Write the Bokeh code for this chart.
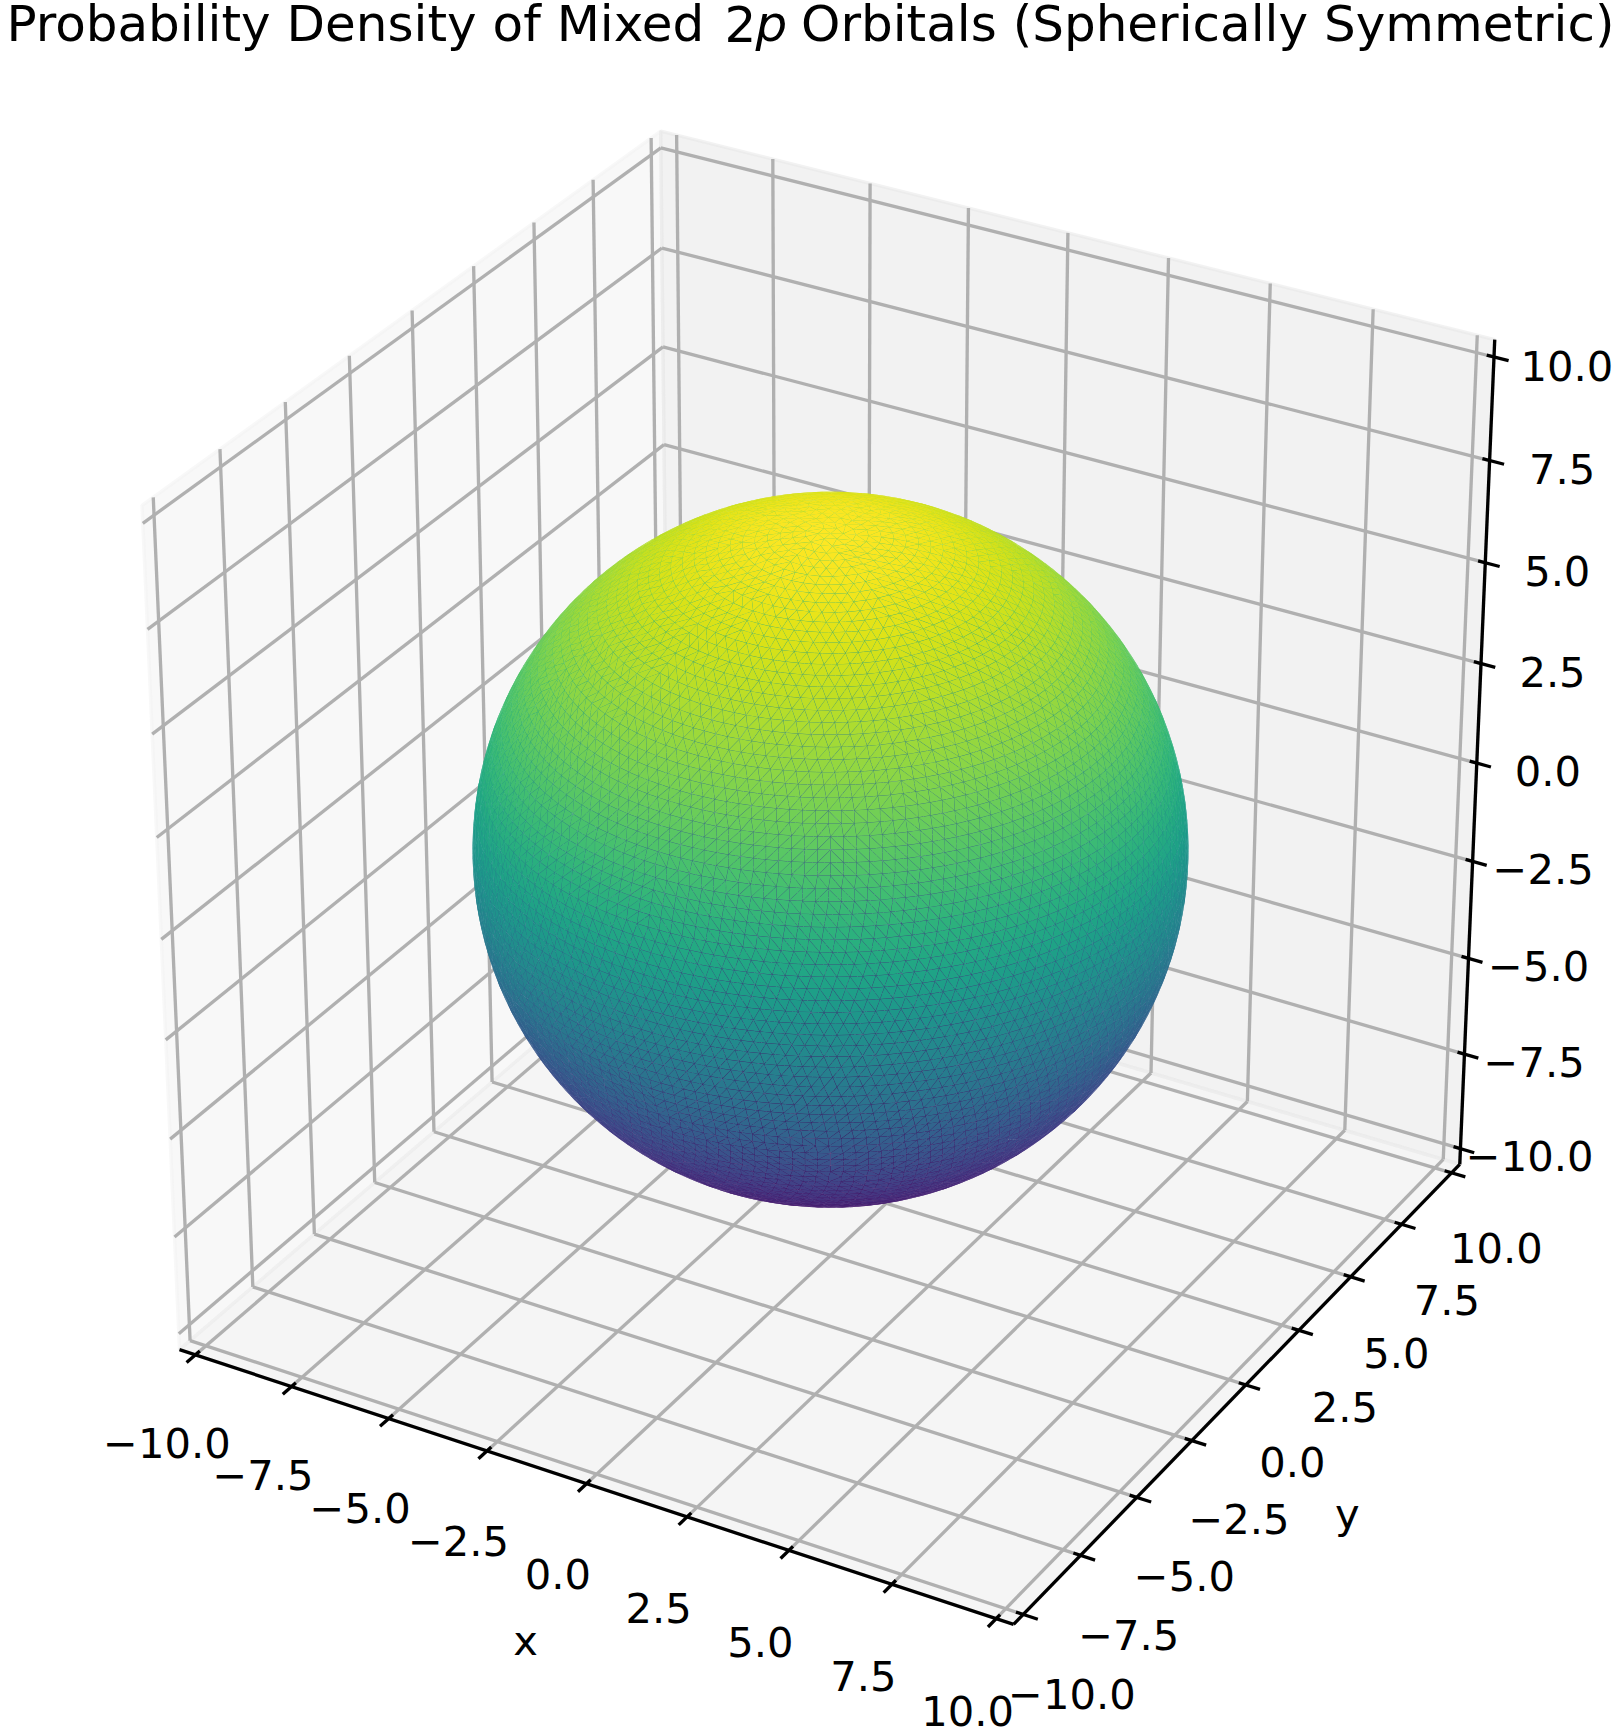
import math
import numpy as np
from bokeh.core.properties import value
from bokeh.embed import file_html
from bokeh.models import ColumnDataSource, Range1d
from bokeh.palettes import Viridis256
from bokeh.plotting import figure
from bokeh.resources import INLINE

# ---- chart values ----
tick_values = [-10.0, -7.5, -5.0, -2.5, 0.0, 2.5, 5.0, 7.5, 10.0]
tick_labels = ["\u221210.0", "\u22127.5", "\u22125.0", "\u22122.5", "0.0", "2.5", "5.0", "7.5", "10.0"]
sphere_radius = 7.74
title_parts = ["Probability Density of Mixed", "2", "p", "Orbitals (Spherically Symmetric)"]
x_label = "x"
y_label = "y"

# ---- the 3D camera (elevation 30, azimuth -60) ----
WIDTH, HEIGHT = 1617, 1734
LIM = 10.0 * (1 + 1 / 24)          # axis limit with view margin
PANE_COLORS = {"x": "#f2f2f2", "y": "#e6e6e6", "z": "#ececec"}
SCALE, CX, CY = 8750.0, 830.0, 849.2
UNIT = 1.8294640721620434 * 25 / 24 / math.sqrt(3) / (2 * LIM)
elev, azim = math.radians(30), math.radians(-60)
N = np.array([math.cos(elev) * math.cos(azim), math.cos(elev) * math.sin(azim), math.sin(elev)])
U = np.array([-N[1], N[0], 0.0]) / math.hypot(N[0], N[1])
V = np.cross(N, U)
DIST = 10.0


def project(x, y, z):
    p = np.stack([np.asarray(x, float), np.asarray(y, float), np.asarray(z, float)], axis=-1) * UNIT
    w = DIST - p @ N
    return CX + SCALE * (p @ U) / w, CY - SCALE * (p @ V) / w


def segment(a, b):
    xs, ys = project([a[0], b[0]], [a[1], b[1]], [a[2], b[2]])
    return list(xs), list(ys)


p = figure(width=WIDTH, height=HEIGHT, output_backend="svg", toolbar_location=None,
           x_range=Range1d(0, WIDTH), y_range=Range1d(HEIGHT, 0), min_border=0,
           margin=(0, 0, 0, 0))
p.axis.visible = False
p.grid.visible = False
p.outline_line_color = None
p.background_fill_color = "white"
p.border_fill_color = "white"

E = LIM
# panes
pane_defs = [
    ("x", [(-E, -E, -E), (-E, E, -E), (-E, E, E), (-E, -E, E)]),
    ("y", [(-E, E, -E), (E, E, -E), (E, E, E), (-E, E, E)]),
    ("z", [(-E, -E, -E), (E, -E, -E), (E, E, -E), (-E, E, -E)]),
]
for name, corners in pane_defs:
    c = np.array(corners)
    xs, ys = project(c[:, 0], c[:, 1], c[:, 2])
    p.patch(list(xs), list(ys), fill_color=PANE_COLORS[name], fill_alpha=0.5,
            line_color=PANE_COLORS[name], line_alpha=0.5, line_width=3.33)

# grid
gx, gy = [], []
for t in tick_values:
    for a, b in [((t, -E, -E), (t, E, -E)), ((t, E, -E), (t, E, E)),
                 ((-E, t, -E), (E, t, -E)), ((-E, t, -E), (-E, t, E)),
                 ((-E, -E, t), (-E, E, t)), ((-E, E, t), (E, E, t))]:
        xs, ys = segment(a, b)
        gx.append(xs)
        gy.append(ys)
p.multi_line(gx, gy, line_color="#b0b0b0", line_width=3.33)

# axis lines and ticks
ax, ay = [], []
for a, b in [((-E, -E, -E), (E, -E, -E)), ((E, -E, -E), (E, E, -E)), ((E, E, -E), (E, E, E))]:
    xs, ys = segment(a, b)
    ax.append(xs)
    ay.append(ys)
D = 2 * E / 12
for t in tick_values:
    for a, b in [((t, -E - 0.2 * D, -E), (t, -E + 0.1 * D, -E)),
                 ((E + 0.2 * D, t, -E), (E - 0.1 * D, t, -E)),
                 ((E + 0.2 * D, E, t), (E - 0.1 * D, E, t))]:
        xs, ys = segment(a, b)
        ax.append(xs)
        ay.append(ys)
p.multi_line(ax, ay, line_color="black", line_width=3.33)

# tick labels
PAD = 1.2
FONT = value("DejaVu Sans")
TICK_SIZE = value("41.67px")
T = np.array(tick_values)
ones = np.ones_like(T)
lx = [(project(T, (-E - PAD) * ones, (-E - PAD) * ones), 0, 16),
      (project((E + PAD) * ones, T, (-E - PAD) * ones), -1, 16),
      (project((E + PAD) * ones, (E + PAD) * ones, T), -2, 18)]
for (xs, ys), xoff, yoff in lx:
    p.text(list(xs), list(ys), text=tick_labels, text_font=FONT, text_font_size=TICK_SIZE,
           text_align="center", text_baseline="middle", text_color="black", y_offset=yoff,
           x_offset=xoff)

# axis labels
xlx, xly = project([0.0], [-E - 3.1], [-E - 3.1])
p.text(list(xlx), list(xly), text=[x_label], text_font=FONT, text_font_size=TICK_SIZE,
       text_align="center", text_baseline="middle", x_offset=13, y_offset=-35)
ylx, yly = project([E + 2.76], [0.0], [-E - 2.76])
p.text(list(ylx), list(yly), text=[y_label], text_font=FONT, text_font_size=TICK_SIZE,
       text_align="center", text_baseline="middle", x_offset=-8, y_offset=-13)


# sphere mesh
def sphere_triangles(radius, rings):
    dth = math.pi / rings
    pts = []
    for k in range(rings + 1):
        th = k * dth
        n = 1 if k in (0, rings) else max(6, int(round(2 * math.pi * math.sin(th) / dth)))
        off = 0.5 * (k % 2) / n
        ph = 2 * math.pi * ((np.arange(n) / n) + off)
        pts.append((radius * math.sin(th) * np.cos(ph), radius * math.sin(th) * np.sin(ph),
                    radius * math.cos(th) * np.ones(n), n, off))
    tris = []
    for k in range(rings):
        xa, ya, za, na, oa = pts[k]
        xb, yb, zb, nb, ob = pts[k + 1]
        i, j = 0, 0
        while i < na or j < nb:
            ia, ja = i % na, j % nb
            if na == 1:
                adv_a = False
            elif nb == 1:
                adv_a = True
            else:
                adv_a = (i + 1) / na + oa <= (j + 1) / nb + ob
            if j >= nb:
                adv_a = True
            if i >= na:
                adv_a = False
            if adv_a:
                i2 = (i + 1) % na
                tris.append(((xa[ia], ya[ia], za[ia]), (xa[i2], ya[i2], za[i2]), (xb[ja], yb[ja], zb[ja])))
                i += 1
            else:
                j2 = (j + 1) % nb
                tris.append(((xa[ia], ya[ia], za[ia]), (xb[j2], yb[j2], zb[j2]), (xb[ja], yb[ja], zb[ja])))
                j += 1
            if na == 1 and j >= nb:
                break
            if nb == 1 and i >= na:
                break
    return np.array(tris)


def draw_layer(tris, front):
    cen = tris.mean(axis=1)
    facing = (cen @ N) > -0.02 * sphere_radius if front else (cen @ N) < 0
    tris = tris[facing]
    cen = cen[facing]
    tris = tris[np.argsort(cen @ N)]
    cz = tris.mean(axis=1)[:, 2]
    idx = np.clip(((cz + sphere_radius) / (2 * sphere_radius) * 255).round().astype(int), 0, 255)
    xs, ys = project(tris[:, :, 0], tris[:, :, 1], tris[:, :, 2])
    if front:
        # leave a hairline between facets, through which the far side shows
        xc, yc = xs.mean(axis=1, keepdims=True), ys.mean(axis=1, keepdims=True)
        xs, ys = xc + (xs - xc) * 0.972, yc + (ys - yc) * 0.972
    src = ColumnDataSource(dict(xs=[list(r) for r in xs], ys=[list(r) for r in ys],
                                c=[Viridis256[i] for i in idx]))
    p.patches("xs", "ys", source=src, fill_color="c", line_color=None)


draw_layer(sphere_triangles(sphere_radius, 45), False)
draw_layer(sphere_triangles(sphere_radius, 90), True)

# title (mathtext-like italic p)
TITLE_SIZE = value("50px")
TITLE_Y = 23.5
p.text([5.9], [TITLE_Y], text=[title_parts[0]], text_font=FONT, text_font_size=TITLE_SIZE,
       text_align="left", text_baseline="alphabetic")
p.text([724], [TITLE_Y], text=[title_parts[1]], text_font=FONT, text_font_size=TITLE_SIZE,
       text_align="left", text_baseline="alphabetic")
p.text([755], [TITLE_Y], text=[title_parts[2]], text_font=FONT, text_font_size=TITLE_SIZE,
       text_font_style="italic", text_align="left", text_baseline="alphabetic")
p.text([1614], [TITLE_Y], text=[title_parts[3]], text_font=FONT, text_font_size=TITLE_SIZE,
       text_align="right", text_baseline="alphabetic")

open("out.html", "w").write(file_html(p, INLINE))
